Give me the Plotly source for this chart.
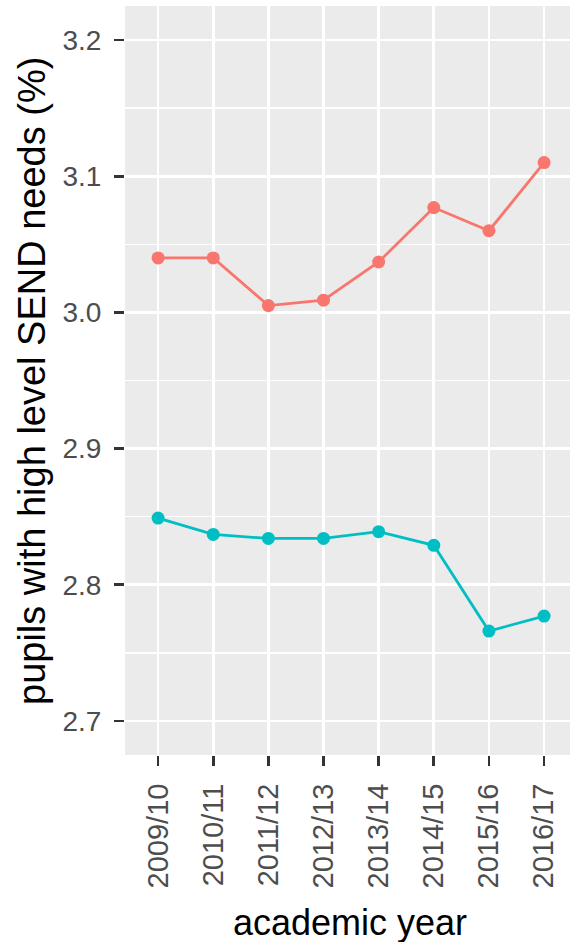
import plotly.graph_objects as go

years = ["2009/10", "2010/11", "2011/12", "2012/13", "2013/14", "2014/15", "2015/16", "2016/17"]
series_red = [3.040, 3.040, 3.005, 3.009, 3.037, 3.077, 3.060, 3.110]
series_teal = [2.849, 2.837, 2.834, 2.834, 2.839, 2.829, 2.766, 2.777]
y_ticks = [2.7, 2.8, 2.9, 3.0, 3.1, 3.2]

W, H = 570, 942
L, R, T, B = 125, 0, 6, 187

fig = go.Figure()
for vals, col in [(series_red, "#F8766D"), (series_teal, "#00BFC4")]:
    fig.add_trace(go.Scatter(
        x=years, y=vals, mode="lines+markers",
        line=dict(color=col, width=2.8),
        marker=dict(color=col, size=13),
        showlegend=False, hoverinfo="skip"))

font_family = "Liberation Sans, Arial, sans-serif"
fig.update_layout(
    width=W, height=H,
    margin=dict(l=L, r=R, t=T, b=B, autoexpand=False),
    paper_bgcolor="white", plot_bgcolor="#EBEBEB",
    font=dict(family=font_family),
    showlegend=False,
)
fig.update_xaxes(
    type="category", range=[-0.6, 7.47],
    showgrid=True, gridcolor="white", gridwidth=2.6,
    zeroline=False, showline=False,
    ticks="outside", ticklen=10, tickwidth=2.6, tickcolor="#333333",
    tickangle=-90, tickfont=dict(size=29, color="#4D4D4D"),
    ticklabelstandoff=6, automargin=False,
)
fig.update_yaxes(
    range=[2.675, 3.225], tickvals=y_ticks, ticktext=[f"{v:.1f}" for v in y_ticks],
    showgrid=True, gridcolor="white", gridwidth=2.6,
    minor=dict(tick0=2.75, dtick=0.1, showgrid=True, gridcolor="white", gridwidth=1.3, ticks=""),
    zeroline=False, showline=False,
    ticks="outside", ticklen=10, tickwidth=2.6, tickcolor="#333333",
    tickfont=dict(size=28, color="#4D4D4D"),
    ticklabelstandoff=7, automargin=False,
)

pw = W - L - R
ph = H - T - B
def px_x(x):
    return (x - L) / pw
def px_y(y):
    return 1 - (y - T) / ph

fig.add_annotation(text="academic year", xref="paper", yref="paper",
                   x=px_x(350), y=px_y(922), xanchor="center", yanchor="middle",
                   showarrow=False, font=dict(size=36, color="black", family=font_family))
fig.add_annotation(text="pupils with high level SEND needs (%)", xref="paper", yref="paper",
                   x=px_x(32), y=px_y(381), xanchor="center", yanchor="middle", textangle=-90,
                   showarrow=False, font=dict(size=38, color="black", family=font_family))

fig.write_html("out.html", config={"displayModeBar": False, "staticPlot": True},
               post_script="document.body.style.margin='0';document.body.style.overflow='hidden';")
